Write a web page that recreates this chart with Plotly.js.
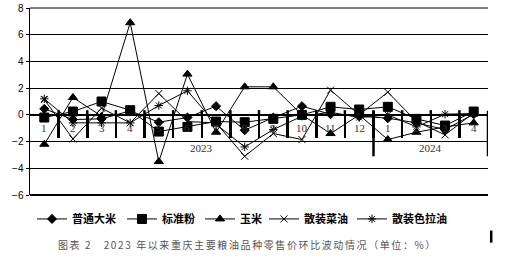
<!DOCTYPE html>
<html>
<head>
<meta charset="utf-8">
<script src="https://cdn.plot.ly/plotly-3.0.1.min.js"></script>
<style>
html,body{margin:0;padding:0;background:#fff;}
#chart{width:516px;height:267px;}
</style>
</head>
<body>
<div id="chart"></div>
<script>
// ---- data ----
const months = ['1','2','3','4','5','6','7','8','9','10','11','12','1','2','3','4'];
const years = ['2023','2024'];
const yearCounts = [12, 4];
const seriesNames = ['普通大米','标准粉','玉米','散装菜油','散装色拉油'];
const rice     = [0.45,-0.35,-0.3,0.3,-0.55,-0.2,0.65,-1.15,-0.2,0.65,0.05,-0.1,-0.25,-0.6,-1.1,0.05];
const flour    = [-0.2,0.25,1.0,0.35,-1.25,-0.9,-0.5,-0.55,-0.3,0.0,0.6,0.4,0.6,-0.3,-0.8,0.25];
const corn     = [-2.2,1.3,-0.1,6.9,-3.5,3.05,-1.3,2.1,2.1,0.0,-1.4,0.0,-1.85,-1.3,-0.9,-0.6];
const rapeOil  = [1.15,-1.8,0.5,-0.6,1.6,-0.5,-0.6,-3.1,-1.4,-1.85,1.85,0.0,1.7,-0.5,-1.5,0.15];
const saladOil = [1.2,-0.6,-0.6,-0.6,0.7,1.8,-0.7,-2.4,-1.1,-0.1,0.2,-0.2,0.0,-0.9,0.05,0.1];
const caption = '图表 2   2023 年以来重庆主要粮油品种零售价环比波动情况（单位：%）';

const xs = months.map((m,i)=>i);
const values = [rice, flour, corn, rapeOil, saladOil];
const symbols = [
  {symbol:'diamond', size:7},
  {symbol:'square', size:9},
  {symbol:'triangle-up', size:8},
  {symbol:'x-thin-open', size:7},
  {symbol:'asterisk-open', size:7}
];
const legendIds = ['legend','legend2','legend3','legend4','legend5'];
const legendX = [0.0044, 0.2009, 0.3712, 0.5109, 0.7031];

const traces = values.map((v,k)=>({
  x: xs, y: v, name: seriesNames[k], type:'scatter', mode:'lines+markers',
  legend: legendIds[k],
  line:{color:'#000', width:1},
  marker:{symbol:symbols[k].symbol, size:symbols[k].size, color:'#000', line:{color:'#000', width:1}},
  cliponaxis:false
}));

const annotations = [];
months.forEach((m,i)=>annotations.push({
  x:i, y:-0.95, xref:'x', yref:'y', text:m, showarrow:false,
  font:{family:'Liberation Serif, serif', size:11, color:'#333'}, yanchor:'middle'
}));
let start = 0;
years.forEach((yr,j)=>{
  const c = start + (yearCounts[j]-1)/2;
  annotations.push({x:c, y:-2.45, xref:'x', yref:'y', text:yr, showarrow:false,
    font:{family:'Liberation Serif, serif', size:11, color:'#333'}, yanchor:'middle'});
  start += yearCounts[j];
});
annotations.push({x:0.474, y:-0.267, xref:'paper', yref:'paper',
  text:'<span style="letter-spacing:1.6px">'+caption+'</span>', showarrow:false,
  font:{family:'Noto Sans CJK SC', size:10, color:'#555'}, yanchor:'middle'});

// year end dividers
const shapes = [];
let acc = 0;
yearCounts.forEach((c)=>{
  acc += c;
  shapes.push({type:'line', xref:'x', yref:'y', x0:acc-0.5, x1:acc-0.5, y0:0.3, y1:-3.1,
    line:{color:'#000', width:2.5}});
});
for(let i=0;i<months.length-1;i++){
  shapes.push({type:'line', xref:'x', yref:'y', x0:i+0.5, x1:i+0.5, y0:0.35, y1:0,
    line:{color:'#000', width:2.5}});
}
shapes.push({type:'line', xref:'paper', yref:'paper', x0:0, x1:1, y0:0, y1:0, line:{color:'#000', width:2}});
shapes.push({type:'line', xref:'paper', yref:'paper', x0:0, x1:1, y0:1, y1:1, line:{color:'#000', width:1}});
shapes.push({type:'line', xref:'paper', yref:'paper', x0:1.007, x1:1.007, y0:-0.19, y1:-0.255, line:{color:'#000', width:2.5}});

const tickBounds = months.slice(0,-1).map((m,i)=>i+0.5);

const layout = {
  width:516, height:267,
  margin:{l:30, r:28, t:8, b:72},
  paper_bgcolor:'#fff', plot_bgcolor:'#fff',
  showlegend:true,
  xaxis:{type:'linear', range:[-0.5, 15.5], showgrid:false, zeroline:false,
    anchor:'free', position:6/14,
    tickvals:tickBounds, ticktext:tickBounds.map(()=>''), ticks:'outside', ticklen:22,
    tickwidth:2.5, tickcolor:'#000', showline:false, fixedrange:true},
  yaxis:{range:[-6,8], dtick:2, tick0:0, showgrid:true, gridcolor:'#000', gridwidth:1,
    zeroline:true, zerolinecolor:'#000', zerolinewidth:2.5,
    showline:true, linecolor:'#000', linewidth:1.5, ticks:'outside', ticklen:3, tickcolor:'#000',
    tickfont:{family:'Liberation Sans, Arial', size:10, color:'#000'}, fixedrange:true},
  annotations: annotations,
  shapes: shapes
};
legendIds.forEach((id,k)=>{
  layout[id] = {orientation:'h', x:legendX[k], y:-0.128, xanchor:'left', yanchor:'middle',
    font:{family:'Noto Sans CJK SC', size:11, color:'#000', weight:'bold'},
    itemwidth:30, bgcolor:'rgba(0,0,0,0)'};
});

Plotly.newPlot('chart', traces, layout, {displayModeBar:false, staticPlot:true});
</script>
</body>
</html>
